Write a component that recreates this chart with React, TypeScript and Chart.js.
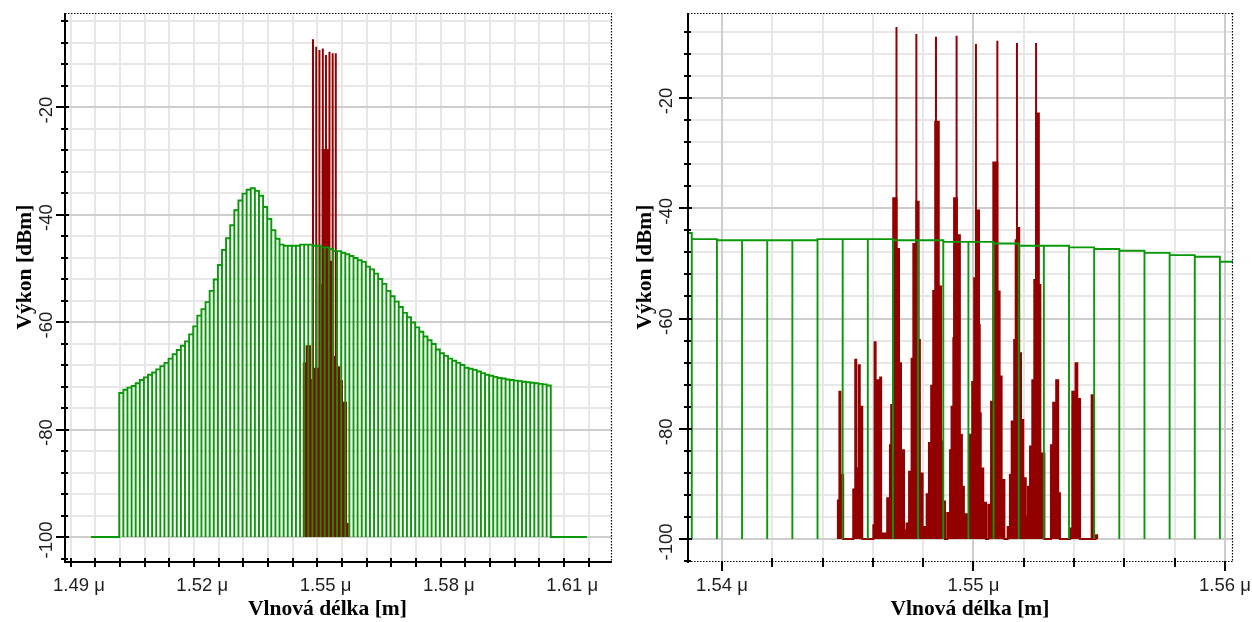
import React, { useEffect, useRef } from "react";
import { Chart, registerables } from "chart.js";

Chart.register(...registerables);

// ---------------- data ----------------
const FLOOR_DBM = -100;

// Green trace: ASE noise spectrum in 1 nm bins
const aseFirstEdgeNm = 1499.8;
const aseBinWidthNm = 1;
const aseLevelsDbm = [
  -73.2, -72.6, -72.2, -71.9, -71.4, -70.8, -70.3, -69.8, -69.4, -68.8,
  -68.2, -67.6, -66.8, -66.0, -65.2, -64.4, -63.6, -62.3, -60.8, -58.8,
  -57.6, -56.3, -54.2, -52.1, -49.4, -46.6, -44.4, -42.0, -39.2, -37.4,
  -36.1, -35.4, -35.1, -35.6, -36.5, -38.6, -40.8, -42.9, -44.5, -45.6,
  -45.8, -45.8, -45.8, -45.8, -45.6, -45.6, -45.6, -45.8, -45.8, -46.1,
  -46.1, -46.4, -46.8, -46.8, -47.1, -47.4, -47.7, -48.1, -48.5, -48.8,
  -49.7, -50.2, -51.0, -52.0, -52.9, -54.2, -55.2, -56.2, -57.2, -58.3,
  -59.1, -60.1, -61.0, -61.8, -62.7, -63.4, -64.1, -65.1, -65.8, -66.3,
  -66.8, -67.2, -67.6, -68.0, -68.5, -68.7, -68.9, -69.2, -69.5, -69.8,
  -70.0, -70.2, -70.4, -70.5, -70.7, -70.8, -70.9, -71.0, -71.1, -71.2,
  -71.3, -71.4, -71.5, -71.6, -71.8,
];
const aseFloorFromNm = 1492.9;
const aseFloorToNm = 1613.6;

// Red trace: 8 WDM carriers
const carrierNm = [1546.94, 1547.73, 1548.51, 1549.33, 1550.1, 1550.95, 1551.73, 1552.49];
const carrierPeakLeftDbm = [-7.4, -8.8, -9.4, -9.1, -10.3, -9.7, -10.0, -10.0];
const carrierPeakRightDbm = [-7.1, -8.4, -8.9, -8.7, -10.2, -9.6, -10.0, -10.0];

// Red trace, left panel: side-band / mixing products (bin edges + levels)
const redLeftEdgesNm = [
  1544.7, 1545.4, 1546.2, 1546.9, 1547.4, 1548.6, 1549.3, 1550.7, 1551.5, 1552.3,
  1553.3, 1554.0, 1555.0, 1555.4,
];
const redLeftLevelsDbm = [
  -67.7, -64.5, -70.8, -78.3, -68.7, -53.1, -28.0, -48.8, -66.5, -68.4, -71.0, -75.0, -97.6,
];

// Red trace, right panel (zoomed): side-band / mixing products
const redRightEdgesNm = [
  1544.61, 1544.67, 1544.71, 1544.82, 1545.22, 1545.3, 1545.34, 1545.44, 1545.48, 1545.58,
  1546.02, 1546.07, 1546.11, 1546.21, 1546.29, 1546.33, 1546.57, 1546.68, 1546.73, 1546.81,
  1546.94, 1547.04, 1547.12, 1547.24, 1547.34, 1547.44, 1547.54, 1547.61, 1547.73, 1547.82,
  1547.87, 1547.98, 1548.14, 1548.23, 1548.32, 1548.4, 1548.48, 1548.62, 1548.71, 1548.76,
  1548.87, 1548.96, 1549.07, 1549.13, 1549.2, 1549.23, 1549.34, 1549.46, 1549.54, 1549.62,
  1549.8, 1549.86, 1549.95, 1550.03, 1550.1, 1550.22, 1550.25, 1550.29, 1550.39, 1550.5,
  1550.59, 1550.7, 1550.79, 1550.95, 1551.04, 1551.12, 1551.23, 1551.36, 1551.45, 1551.52,
  1551.62, 1551.68, 1551.74, 1551.82, 1551.89, 1551.98, 1552.08, 1552.17, 1552.25, 1552.34,
  1552.42, 1552.49, 1552.6, 1552.66, 1552.82, 1553.08, 1553.17, 1553.24, 1553.29, 1553.37,
  1553.44, 1553.84, 1553.93, 1554.0, 1554.06, 1554.13, 1554.24, 1554.7, 1554.78, 1554.86,
  1554.92,
];
const redRightLevelsDbm = [
  -93.0, -73.3, -88.4, -100, -91.0, -67.5, -87.2, -68.5, -76.0, -100,
  -97.5, -64.3, -71.2, -85.8, -70.7, -99.0, -92.6, -83.0, -75.7, -38.2,
  -47.4, -68.1, -83.9, -98.4, -97.2, -87.8, -67.3, -46.5, -38.8, -63.9,
  -88.1, -97.8, -91.9, -82.6, -72.2, -55.0, -24.3, -54.2, -82.3, -93.2,
  -100, -95.3, -83.9, -76.0, -63.6, -38.2, -44.9, -81.1, -90.5, -95.5,
  -98.0, -81.1, -71.5, -52.7, -40.4, -61.2, -77.2, -87.2, -93.4, -100,
  -93.8, -75.1, -31.7, -55.1, -70.5, -89.3, -100, -97.8, -88.4, -78.7,
  -63.9, -45.8, -43.6, -66.3, -78.4, -89.0, -95.9, -90.5, -83.2, -71.2,
  -53.0, -22.8, -53.9, -84.5, -100, -83.0, -75.3, -86.0, -71.2, -91.7,
  -100, -98.1, -73.3, -89.2, -68.1, -74.6, -100, -73.9, -100, -99.3,
];

// Axes
const leftXRangeNm = [1486.6, 1619.7];
const leftYRangeDbm = [-104.65, -2.5];
const rightXRangeNm = [1538.65, 1560.32];
const rightYRangeDbm = [-104.17, -4.58];
const leftXMajorNm = [1490, 1520, 1550, 1580, 1610];
const rightXMajorNm = [1540, 1550, 1560];
const yMajorDbm = [-100, -80, -60, -40, -20];
const leftXMinorStepNm = 6;
const rightXMinorStepNm = 2;
const yMinorStepDbm = 4;
const yAxisTitle = "Výkon [dBm]";
const xAxisTitle = "Vlnová délka [m]";

// ---------------- styling ----------------
const GREEN = "#089808";
const RED = "#930000";
const GRID_MAJOR = "#cdcdcd";
const GRID_MINOR = "#e7e7e7";
const LABEL_FONT = '18.5px "Liberation Sans", Arial, sans-serif';
const TITLE_FONT = 'bold 21.5px "Liberation Serif", "Times New Roman", serif';

type Pt = { x: number; y: number | null };

function asePoints(): Pt[] {
  const pts: Pt[] = [{ x: aseFloorFromNm, y: FLOOR_DBM }];
  aseLevelsDbm.forEach((v, k) => {
    const a = aseFirstEdgeNm + k * aseBinWidthNm;
    const b = a + aseBinWidthNm;
    pts.push({ x: a, y: FLOOR_DBM }, { x: a, y: v }, { x: b, y: v }, { x: b, y: FLOOR_DBM });
  });
  pts.push({ x: aseFloorToNm, y: FLOOR_DBM });
  return pts;
}

function stepFillPoints(edges: number[], levels: number[]): Pt[] {
  const pts: Pt[] = [{ x: edges[0], y: FLOOR_DBM }];
  levels.forEach((v, i) => {
    pts.push({ x: edges[i], y: v }, { x: edges[i + 1], y: v });
  });
  pts.push({ x: edges[edges.length - 1], y: FLOOR_DBM });
  return pts;
}

function spikePoints(xs: number[], peaks: number[]): Pt[] {
  const pts: Pt[] = [];
  xs.forEach((x, i) => {
    pts.push({ x, y: FLOOR_DBM }, { x, y: peaks[i] }, { x, y: null });
  });
  return pts;
}

function stepsIn(min: number, max: number, step: number): number[] {
  const out: number[] = [];
  const start = Math.ceil(min / step) * step;
  for (let v = start; v <= max + 1e-9; v += step) out.push(Math.round(v * 1000) / 1000);
  return out;
}

type PanelCfg = {
  xMajor: number[];
  xMinorStep: number;
  yLabelX: number;
  yLabelShift: number;
  xLabelY: number;
  yTitleX: number;
  yTitleY: number;
  xTitleX: number;
  xTitleY: number;
  xAxisDotted: boolean;
};

function decorPlugin(cfg: PanelCfg) {
  const isMajorY = (v: number) => yMajorDbm.includes(v);
  const isMajorX = (v: number) => cfg.xMajor.some((m) => Math.abs(m - v) < 1e-6);
  return {
    id: "panelDecor",
    beforeDatasetsDraw(chart: any) {
      const { ctx, chartArea: a, scales } = chart;
      const xs = scales.x;
      const ys = scales.y;
      const yVals = stepsIn(ys.min, ys.max, yMinorStepDbm).filter((v) => v >= FLOOR_DBM);
      const xVals = stepsIn(xs.min, xs.max, cfg.xMinorStep);
      ctx.save();
      ctx.lineWidth = 2;
      for (const pass of [false, true]) {
        ctx.strokeStyle = pass ? GRID_MAJOR : GRID_MINOR;
        for (const v of yVals) {
          if (isMajorY(v) !== pass) continue;
          const y = Math.round(ys.getPixelForValue(v));
          ctx.beginPath();
          ctx.moveTo(a.left, y);
          ctx.lineTo(a.right, y);
          ctx.stroke();
        }
        for (const v of xVals) {
          if (isMajorX(v) !== pass) continue;
          const x = Math.round(xs.getPixelForValue(v));
          if (x <= a.left + 2 || x >= a.right - 1) continue;
          ctx.beginPath();
          ctx.moveTo(x, a.top);
          ctx.lineTo(x, a.bottom);
          ctx.stroke();
        }
      }
      ctx.restore();
    },
    afterDraw(chart: any) {
      const { ctx, chartArea: a, scales } = chart;
      const xs = scales.x;
      const ys = scales.y;
      const seg = (x1: number, y1: number, x2: number, y2: number) => {
        ctx.beginPath();
        ctx.moveTo(x1, y1);
        ctx.lineTo(x2, y2);
        ctx.stroke();
      };
      ctx.save();
      // dotted frame
      ctx.strokeStyle = "#000";
      ctx.lineWidth = 1.2;
      ctx.setLineDash([1.5, 1.5]);
      seg(a.left, a.top + 0.5, a.right, a.top + 0.5);
      seg(a.right - 0.5, a.top, a.right - 0.5, a.bottom);
      if (cfg.xAxisDotted) seg(a.left, a.bottom - 0.5, a.right, a.bottom - 0.5);
      ctx.setLineDash([]);
      // solid axes
      ctx.lineWidth = 2;
      seg(a.left, a.top, a.left, a.bottom + 1);
      if (!cfg.xAxisDotted) seg(a.left - 1, a.bottom, a.right, a.bottom);
      // y ticks
      const yVals = stepsIn(ys.min, ys.max, yMinorStepDbm);
      for (const v of yVals) {
        const y = Math.round(ys.getPixelForValue(v));
        if (isMajorY(v)) seg(a.left - 9, y, a.left + 4, y);
        else seg(a.left - 4, y, a.left + 3, y);
      }
      // x ticks
      const xVals = stepsIn(xs.min, xs.max, cfg.xMinorStep);
      for (const v of xVals) {
        const x = Math.round(xs.getPixelForValue(v));
        if (isMajorX(v)) seg(x, a.bottom - 1, x, a.bottom + 9);
        else seg(x, a.bottom - 4, x, a.bottom + 5);
      }
      // tick labels
      ctx.fillStyle = "#1e1e1e";
      ctx.font = LABEL_FONT;
      ctx.textAlign = "center";
      ctx.textBaseline = "middle";
      for (const v of cfg.xMajor) {
        ctx.fillText((v / 1000).toFixed(2) + " μ", xs.getPixelForValue(v), cfg.xLabelY);
      }
      for (const v of yMajorDbm) {
        ctx.save();
        ctx.translate(cfg.yLabelX, ys.getPixelForValue(v) + cfg.yLabelShift);
        ctx.rotate(-Math.PI / 2);
        ctx.fillText(String(v), 0, 0);
        ctx.restore();
      }
      // axis titles
      ctx.fillStyle = "#000";
      ctx.font = TITLE_FONT;
      ctx.fillText(xAxisTitle, cfg.xTitleX, cfg.xTitleY);
      ctx.save();
      ctx.translate(cfg.yTitleX, cfg.yTitleY);
      ctx.rotate(-Math.PI / 2);
      ctx.fillText(yAxisTitle, 0, 0);
      ctx.restore();
      ctx.restore();
    },
  };
}

type PanelProps = {
  width: number;
  height: number;
  left: number;
  yAxisWidth: number;
  padRight: number;
  xRange: number[];
  yRange: number[];
  carrierPeaks: number[];
  redEdges: number[];
  redLevels: number[];
  cfg: PanelCfg;
};

function SpectrumPanel(p: PanelProps) {
  const ref = useRef<HTMLCanvasElement | null>(null);
  useEffect(() => {
    if (!ref.current) return;
    const chart = new Chart(ref.current, {
      type: "line",
      data: {
        datasets: [
          {
            data: asePoints() as any,
            borderColor: GREEN,
            borderWidth: 1.9,
            pointRadius: 0,
            fill: false,
            tension: 0,
          },
          {
            data: spikePoints(carrierNm, p.carrierPeaks) as any,
            borderColor: RED,
            borderWidth: 2,
            pointRadius: 0,
            fill: false,
            spanGaps: false,
            tension: 0,
          },
          {
            data: stepFillPoints(p.redEdges, p.redLevels) as any,
            borderColor: RED,
            backgroundColor: RED,
            borderWidth: 2,
            pointRadius: 0,
            fill: { value: FLOOR_DBM },
            tension: 0,
          },
        ],
      },
      options: {
        animation: false,
        responsive: false,
        events: [],
        layout: { padding: { left: 0, top: 13, right: p.padRight, bottom: 0 } },
        plugins: { legend: { display: false }, tooltip: { enabled: false } },
        scales: {
          x: {
            type: "linear",
            min: p.xRange[0],
            max: p.xRange[1],
            grid: { display: false },
            border: { display: false },
            ticks: { display: false },
            afterFit: (s: any) => {
              s.height = 60;
            },
          },
          y: {
            type: "linear",
            min: p.yRange[0],
            max: p.yRange[1],
            grid: { display: false },
            border: { display: false },
            ticks: { display: false },
            afterFit: (s: any) => {
              s.width = p.yAxisWidth;
            },
          },
        },
      },
      plugins: [decorPlugin(p.cfg)],
    } as any);
    return () => chart.destroy();
  }, []);
  return (
    <canvas
      ref={ref}
      width={p.width}
      height={p.height}
      style={{ position: "absolute", left: p.left, top: 0, width: p.width, height: p.height }}
    />
  );
}

export default function App() {
  return (
    <div
      style={{
        position: "fixed",
        left: 0,
        top: 0,
        width: 1252,
        height: 622,
        background: "#fff",
        overflow: "hidden",
      }}
    >
      <SpectrumPanel
        width={620}
        height={622}
        left={0}
        yAxisWidth={65}
        padRight={8}
        xRange={leftXRangeNm}
        yRange={leftYRangeDbm}
        carrierPeaks={carrierPeakLeftDbm}
        redEdges={redLeftEdgesNm}
        redLevels={redLeftLevelsDbm}
        cfg={{
          xMajor: leftXMajorNm,
          xMinorStep: leftXMinorStepNm,
          yLabelX: 46.5,
          yLabelShift: 3,
          xLabelY: 585.5,
          yTitleX: 25,
          yTitleY: 267,
          xTitleX: 327.5,
          xTitleY: 609,
          xAxisDotted: false,
        }}
      />
      <SpectrumPanel
        width={632}
        height={622}
        left={620}
        yAxisWidth={68}
        padRight={19}
        xRange={rightXRangeNm}
        yRange={rightYRangeDbm}
        carrierPeaks={carrierPeakRightDbm}
        redEdges={redRightEdgesNm}
        redLevels={redRightLevelsDbm}
        cfg={{
          xMajor: rightXMajorNm,
          xMinorStep: rightXMinorStepNm,
          yLabelX: 47,
          yLabelShift: 3,
          xLabelY: 585.5,
          yTitleX: 25,
          yTitleY: 267,
          xTitleX: 350,
          xTitleY: 609,
          xAxisDotted: true,
        }}
      />
    </div>
  );
}
